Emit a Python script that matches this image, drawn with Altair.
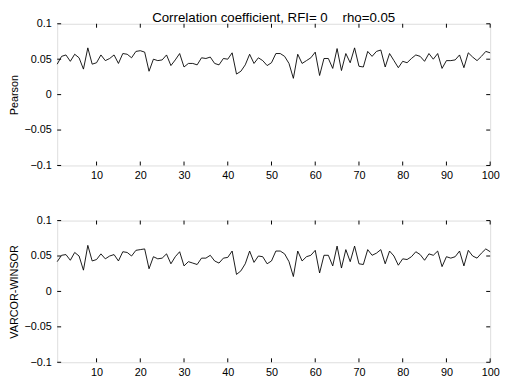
import altair as alt
import pandas as pd

x_vals = list(range(1, 101))

pearson = [0.043, 0.054, 0.056, 0.047, 0.057, 0.052, 0.036, 0.066, 0.043, 0.045,
           0.056, 0.048, 0.051, 0.056, 0.044, 0.058, 0.057, 0.052, 0.061, 0.062,
           0.060, 0.033, 0.050, 0.048, 0.049, 0.056, 0.041, 0.049, 0.058, 0.039,
           0.044, 0.044, 0.042, 0.052, 0.051, 0.053, 0.044, 0.042, 0.051, 0.050,
           0.059, 0.029, 0.033, 0.042, 0.057, 0.044, 0.052, 0.048, 0.041, 0.045,
           0.058, 0.058, 0.054, 0.044, 0.023, 0.057, 0.044, 0.048, 0.052, 0.060,
           0.027, 0.051, 0.051, 0.037, 0.065, 0.034, 0.058, 0.045, 0.066, 0.040,
           0.039, 0.061, 0.054, 0.061, 0.063, 0.039, 0.058, 0.048, 0.038, 0.047,
           0.045, 0.051, 0.056, 0.054, 0.047, 0.058, 0.050, 0.058, 0.037, 0.048,
           0.048, 0.049, 0.056, 0.038, 0.059, 0.053, 0.048, 0.054, 0.061, 0.059]

varcor = [0.042, 0.051, 0.052, 0.044, 0.055, 0.050, 0.030, 0.065, 0.043, 0.045,
          0.053, 0.046, 0.050, 0.052, 0.043, 0.056, 0.055, 0.050, 0.058, 0.059,
          0.060, 0.032, 0.049, 0.046, 0.047, 0.053, 0.039, 0.049, 0.056, 0.036,
          0.042, 0.040, 0.038, 0.047, 0.047, 0.051, 0.043, 0.040, 0.047, 0.048,
          0.057, 0.024, 0.029, 0.039, 0.057, 0.041, 0.050, 0.049, 0.039, 0.043,
          0.057, 0.057, 0.053, 0.042, 0.021, 0.057, 0.043, 0.049, 0.051, 0.058,
          0.026, 0.051, 0.051, 0.036, 0.064, 0.033, 0.059, 0.042, 0.064, 0.039,
          0.038, 0.059, 0.051, 0.054, 0.059, 0.039, 0.057, 0.050, 0.037, 0.046,
          0.045, 0.049, 0.056, 0.052, 0.044, 0.053, 0.051, 0.057, 0.035, 0.049,
          0.047, 0.049, 0.057, 0.036, 0.058, 0.050, 0.047, 0.054, 0.060, 0.056]

x_ticks = [10, 20, 30, 40, 50, 60, 70, 80, 90, 100]
y_ticks = [-0.1, -0.05, 0, 0.05, 0.1]

title_text = "Correlation coefficient, RFI= 0\u00a0\u00a0\u00a0\u00a0rho=0.05"

W, H = 440, 144
FONT = "Liberation Sans"
TL = 4  # inward tick length


def panel(values, ytitle, title=None):
    df = pd.DataFrame({"x": x_vals, "y": values})
    xs = alt.Scale(domain=[1, 100], nice=False, zero=False)
    ys = alt.Scale(domain=[-0.1, 0.1], nice=False, zero=False)
    xa = alt.Axis(values=x_ticks, ticks=False, domain=False, grid=False,
                  labelFlush=False, labelOverlap=False, labelPadding=4, labelFontSize=11,
                  labelFont=FONT, labelColor="black")
    ya = alt.Axis(values=y_ticks, ticks=False, domain=False, grid=False,
                  format="~g", labelOverlap=False, labelPadding=6, labelFontSize=11,
                  labelFont=FONT, labelColor="black",
                  titleFont=FONT, titleFontSize=11, titleFontWeight="normal",
                  titleColor="black", titleX=-38, titleY=H / 2,
                  titleBaseline="bottom", titleAngle=270, titleAlign="center")
    X = alt.X("x:Q", scale=xs, title=None, axis=xa)
    Y = alt.Y("y:Q", scale=ys, title=ytitle, axis=ya)
    line = alt.Chart(df).mark_line(color="black", strokeWidth=0.9).encode(x=X, y=Y)
    xt = pd.DataFrame({"x": x_ticks})
    yt = pd.DataFrame({"y": y_ticks})
    tb = alt.Chart(xt).mark_rule(color="black", strokeWidth=1).encode(
        x=X, y=alt.value(H), y2=alt.value(H - TL))
    tt = alt.Chart(xt).mark_rule(color="black", strokeWidth=1).encode(
        x=X, y=alt.value(0), y2=alt.value(TL))
    tl = alt.Chart(yt).mark_rule(color="black", strokeWidth=1).encode(
        y=Y, x=alt.value(0), x2=alt.value(TL))
    tr = alt.Chart(yt).mark_rule(color="black", strokeWidth=1).encode(
        y=Y, x=alt.value(W), x2=alt.value(W - TL))
    props = dict(width=W, height=H)
    if title:
        props["title"] = alt.TitleParams(title, fontSize=13.5, font=FONT, fontWeight="normal",
                                         color="black", anchor="middle", frame="group",
                                         offset=-7)
    return alt.layer(line, tb, tt, tl, tr).properties(**props)


top = panel(pearson, "Pearson", title_text)
bottom = panel(varcor, "VARCOR-WINSOR")

chart = alt.VConcatChart(vconcat=[top, bottom], spacing=56, bounds="flush").properties(
    padding={"left": 0, "top": 0, "right": 0, "bottom": 0}
).configure_view(stroke="black", strokeWidth=1).configure(background="white")

chart.save("out.html", embed_options={"renderer": "svg", "actions": False})
